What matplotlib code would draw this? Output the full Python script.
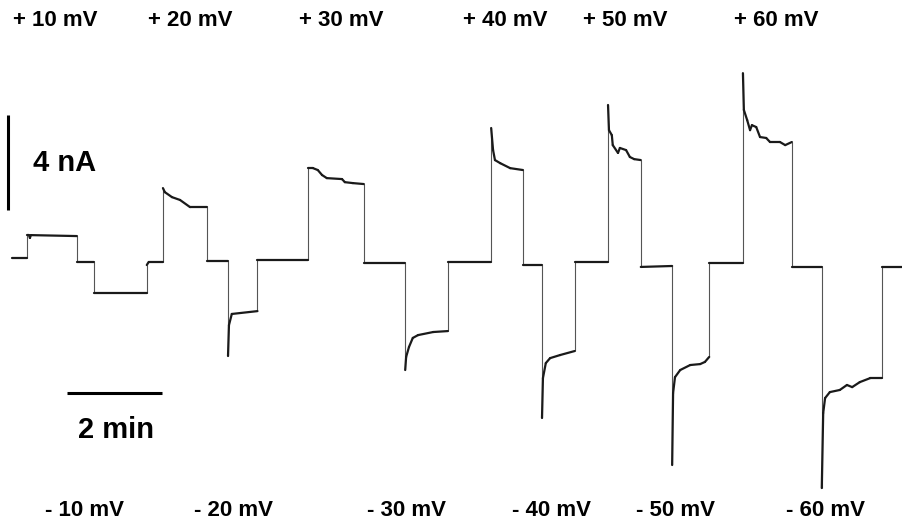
import numpy as np
import matplotlib.pyplot as plt
from matplotlib.collections import LineCollection

plt.rcParams['font.family'] = ['Liberation Sans', 'DejaVu Sans']

# current trace: time (min), current (nA)
t_min = [0.04, 0.36, 0.36, 0.40, 0.42, 0.44, 1.41, 1.41, 1.77, 1.77, 2.88, 2.88, 2.92, 3.22,
         3.22, 3.26, 3.41, 3.58, 3.79, 4.15, 4.15, 4.59,
         4.59, 4.61, 4.67, 5.21, 5.21, 6.27,
         6.27, 6.38, 6.48, 6.57, 6.67, 6.99, 7.05, 7.22, 7.45, 7.45, 8.32,
         8.32, 8.34, 8.40, 8.48, 8.59, 8.91, 9.22, 9.22, 10.13,
         10.13, 10.17, 10.21, 10.32, 10.53, 10.80, 10.80, 11.20,
         11.20, 11.22, 11.28, 11.37, 11.58, 11.89, 11.89, 12.59,
         12.59, 12.61, 12.67, 12.69, 12.80, 12.84, 12.97, 13.05, 13.14, 13.28, 13.28, 13.94,
         13.94, 13.96, 14.00, 14.11, 14.32, 14.53, 14.63, 14.72, 14.72, 15.43,
         15.43, 15.45, 15.52, 15.58, 15.62, 15.71, 15.79, 15.92, 16.00, 16.21, 16.32, 16.46,
         16.46, 17.09,
         17.09, 17.12, 17.16, 17.26, 17.47, 17.62, 17.73, 17.89, 18.11, 18.36, 18.36, 18.80]
i_nA = [0.08, 0.08, 1.05, 1.05, 0.93, 1.05, 1.01, -0.08, -0.08, -1.39, -1.39, -0.21, -0.08, -0.08,
        3.03, 2.86, 2.65, 2.53, 2.23, 2.23, -0.04, -0.04,
        -4.04, -2.74, -2.27, -2.15, 0.00, 0.00,
        3.87, 3.87, 3.79, 3.58, 3.45, 3.41, 3.28, 3.24, 3.20, -0.13, -0.13,
        -4.63, -4.08, -3.66, -3.28, -3.16, -3.03, -2.99, -0.08, -0.08,
        5.56, 4.63, 4.21, 4.08, 3.87, 3.79, -0.21, -0.21,
        -6.65, -4.97, -4.34, -4.13, -4.00, -3.83, -0.08, -0.08,
        6.53, 5.47, 5.26, 4.84, 4.51, 4.72, 4.63, 4.34, 4.25, 4.21, -0.29, -0.25,
        -8.63, -5.60, -4.93, -4.63, -4.42, -4.38, -4.29, -4.08, -0.13, -0.13,
        7.87, 6.32, 5.89, 5.47, 5.68, 5.60, 5.18, 5.14, 4.97, 4.97, 4.84, 4.97,
        -0.29, -0.29,
        -9.60, -6.44, -5.81, -5.56, -5.47, -5.26, -5.35, -5.14, -4.97, -4.97, -0.29, -0.29]

pos_labels = ['+ 10 mV', '+ 20 mV', '+ 30 mV', '+ 40 mV', '+ 50 mV', '+ 60 mV']
neg_labels = ['- 10 mV', '- 20 mV', '- 30 mV', '- 40 mV', '- 50 mV', '- 60 mV']
pos_x = [55, 190, 341, 505, 625, 776]   # label centres, pixels
neg_x = [85, 234, 407, 551, 676, 826]

W, H = 903, 527
fig = plt.figure(figsize=(W / 100, H / 100), dpi=100)
ax = fig.add_axes([0, 0, 1, 1])
ax.set_xlim(-0.21, 18.8)
ax.set_ylim(-11.24, 10.95)
ax.axis('off')

t = np.array(t_min)
y = np.array(i_nA)
segs = np.stack([np.column_stack([t[:-1], y[:-1]]), np.column_stack([t[1:], y[1:]])], axis=1)
vertical = np.isclose(t[:-1], t[1:])
ax.add_collection(LineCollection(segs[vertical], colors='#555555', linewidths=0.8))
ax.add_collection(LineCollection(segs[~vertical], colors='#1a1a1a', linewidths=1.6,
                                 capstyle='round', joinstyle='round'))

# scale bars: 4 nA and 2 min
ax.plot([-0.05, -0.05], [2.1, 6.1], color='black', lw=2.2, solid_capstyle='butt')
ax.plot([1.2, 3.2], [-5.6, -5.6], color='black', lw=2.2, solid_capstyle='butt')
ax.text(1.14, 4.08, '4 nA', fontsize=21, fontweight='bold', ha='center', va='center')
ax.text(2.23, -7.16, '2 min', fontsize=21, fontweight='bold', ha='center', va='center')

for lab, px in zip(pos_labels, pos_x):
    fig.text(px / W, 1 - 20 / H, lab, fontsize=16, fontweight='bold', ha='center', va='center')
for lab, px in zip(neg_labels, neg_x):
    fig.text(px / W, 1 - 510 / H, lab, fontsize=16, fontweight='bold', ha='center', va='center')

fig.savefig('out.png', dpi=100, facecolor='white')
